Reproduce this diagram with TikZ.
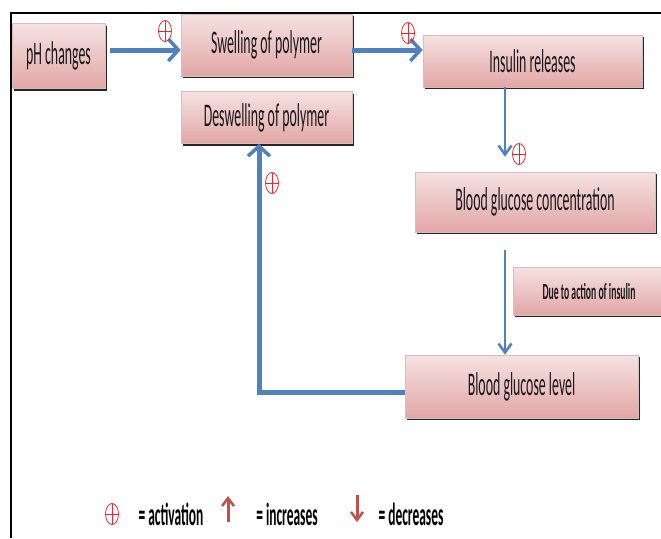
\documentclass[tikz,border=0pt]{standalone}
\usepackage{fontspec}
\setmainfont{Carlito}[FakeStretch=0.42]
\usetikzlibrary{arrows.meta,shapes,shadows}
\definecolor{boxtop}{RGB}{246,226,226}
\definecolor{boxbot}{RGB}{226,166,166}
\definecolor{boxline}{RGB}{214,190,190}
\definecolor{flow}{RGB}{79,129,189}
\definecolor{actred}{RGB}{232,40,52}
\definecolor{legred}{RGB}{192,80,77}
\tikzset{
  stepbox/.style={rectangle, draw=boxline, line width=0.6pt,
    top color=boxtop, bottom color=boxbot, text=black!90,
    general shadow={fill=black!85, shadow xshift=1.5pt, shadow yshift=-2pt},
    inner sep=0pt, font=\fontsize{33}{35}\selectfont},
  act/.style={ellipse, draw=actred, line width=0.8pt, minimum width=13pt,
    minimum height=21pt, inner sep=0pt,
    path picture={\draw[actred, line width=0.6pt]
      (path picture bounding box.north) -- (path picture bounding box.south)
      (path picture bounding box.west) -- (path picture bounding box.east);}},
  legend/.style={font=\bfseries\fontsize{32}{34}\selectfont, inner sep=0pt},
  bigflow/.style={flow, line width=5pt,
    -{Straight Barb[length=10pt, width=22pt, line width=3.5pt]}},
  thinflow/.style={flow, line width=2.5pt,
    -{Straight Barb[length=9pt, width=13pt, line width=2.5pt]}},
  legarrow/.style={legred, line width=3pt,
    -{Straight Barb[length=8pt, width=12pt, line width=2.5pt]}}
}

\begin{document}
\begin{tikzpicture}[x=1pt,y=-1pt]
\useasboundingbox (0,0) rectangle (661,538);
\draw[line width=2pt] (11,538) -- (11,13) -- (661,13);

% boxes
\node[stepbox, minimum width=93pt, minimum height=65pt] (ph) at (58.5,56) {pH changes};
\node[stepbox, minimum width=171pt, minimum height=62pt] (swell) at (266.5,45) {Swelling of polymer};
\node[stepbox, minimum width=171pt, minimum height=52pt] (deswell) at (266.5,117.5) {Deswelling of polymer};
\node[stepbox, minimum width=219pt, minimum height=52pt] (ins) at (532.5,61) {Insulin releases};
\node[stepbox, minimum width=240pt, minimum height=60pt] (conc) at (535,202) {Blood glucose concentration};
\node[stepbox, minimum width=152pt, minimum height=48pt,
  font=\bfseries\fontsize{23}{25}\selectfont] (action) at (589,291) {Due to action of insulin};
\node[stepbox, minimum width=233pt, minimum height=63pt] (level) at (521.5,386.5) {Blood glucose level};

% arrows
\draw[bigflow, shorten <=5pt] ([yshift=6pt]ph.east) -- ([yshift=6pt]ph.east -| swell.west);
\draw[bigflow] ([yshift=-5pt]swell.east) -- ([yshift=-5pt]swell.east -| ins.west);
\draw[thinflow, shorten >=15pt] ([xshift=-27.5pt]ins.south) -- ([xshift=-27.5pt]ins.south |- conc.north);
\draw[thinflow, shorten <=18pt] ([xshift=-30pt]conc.south) -- ([xshift=-30pt]conc.south |- level.north);
\draw[bigflow] ([yshift=-5.5pt]level.west) -| ([xshift=-7.5pt]deswell.south);

% activation marks
\node[act] (a1) at (165,31) {};
\node[act] (a2) at (408,33) {};
\node[act] (a3) at (519,154) {};
\node[act] (a4) at (272,183) {};

% legend
\node[act] (k1) at (112,514) {};
\node[legend] (t1) at (171,514) {= activation};
\coordinate (u0) at (228,522);
\coordinate (u1) at (228,496);
\draw[legarrow] (u0) -- (u1);
\node[legend] (t2) at (287,514) {= increases};
\coordinate (d0) at (357,495);
\coordinate (d1) at (357,522);
\draw[legarrow] (d0) -- (d1);
\node[legend] (t3) at (411,514) {= decreases};
\end{tikzpicture}
\end{document}
